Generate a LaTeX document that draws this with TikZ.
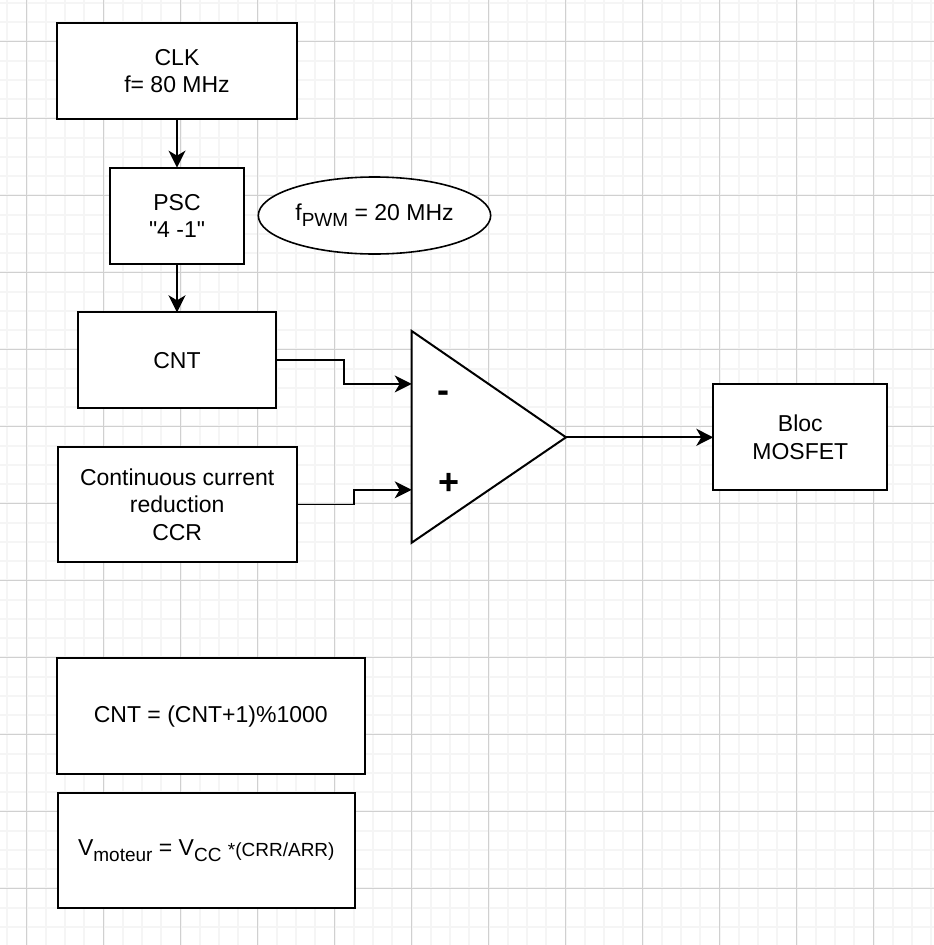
\documentclass[tikz,border=0pt]{standalone}
\usepackage{fontspec}
\setmainfont{Liberation Sans}[Ligatures=TeXOff]
\usetikzlibrary{arrows.meta,shapes.geometric,calc}
\definecolor{gridmajor}{RGB}{208,208,208}
\definecolor{gridminor}{RGB}{245,245,245}
\newcommand\subtxt[1]{\raisebox{-6pt}{\fontsize{19}{19}\selectfont #1}}
\begin{document}
\begin{tikzpicture}[x=1pt,y=-1pt,
  every node/.style={font=\fontsize{23}{27.6}\selectfont, inner sep=0pt, outer sep=0pt, align=center},
  blk/.style={draw=black, line width=2pt, fill=white, rectangle},
  conn/.style={line width=1.8pt, -{Stealth[length=17pt,width=17pt,inset=5pt]}},
  gmin/.style={draw=gridminor, line width=2pt},
  gmaj/.style={draw=gridmajor, line width=1pt},
  sign/.style={font=\fontsize{36}{36}\selectfont\bfseries, anchor=base}]
\useasboundingbox (0,0) rectangle (934,945);
\fill[white] (0,0) rectangle (934,945);
% grid
\foreach \i in {-1,...,48} { \draw[gmin] (26.5+19.25*\i,0) -- (26.5+19.25*\i,945); }
\foreach \i in {-2,...,47} { \draw[gmin] (0,41.3+19.25*\i) -- (934,41.3+19.25*\i); }
\foreach \i in {0,...,11} { \draw[gmaj] (26.5+77*\i,0) -- (26.5+77*\i,945); }
\foreach \i in {0,...,11} { \draw[gmaj] (0,41.3+77*\i) -- (934,41.3+77*\i); }
% blocks
\node[blk, minimum width=240.6pt, minimum height=95.7pt] (clk) at (177,71.2) {CLK\\f= 80 MHz};
\node[blk, minimum width=134.3pt, minimum height=96.3pt] (psc) at (177,215.8) {PSC\\"4 -1"};
\node[draw=black, ellipse, line width=1.6pt, fill=white, minimum width=232.4pt, minimum height=77pt] (fpwm) at (374.5,215.5) {f\subtxt{PWM} = 20 MHz};
\node[blk, minimum width=197.7pt, minimum height=96pt] (cnt) at (177,360.3) {CNT};
\node[blk, minimum width=239pt, minimum height=115.6pt] (ccr) at (177.2,504.5) {Continuous current\\reduction\\CCR};
\node[blk, minimum width=174pt, minimum height=105.7pt] (mos) at (800.3,437.3) {Bloc\\MOSFET};
\node[blk, minimum width=308.3pt, minimum height=116pt] (eqa) at (210.8,716.3) {CNT = (CNT+1)\%1000};
\node[blk, minimum width=297.3pt, minimum height=115pt] (eqb) at (206.3,850.8) {V\subtxt{moteur} = V\subtxt{CC} \raisebox{-1pt}{\fontsize{19}{19}\selectfont *(CRR/ARR)}};
% comparator
\coordinate (ta) at (411.7,331);
\coordinate (tb) at (411.7,542.7);
\coordinate (tc) at (566,437.3);
\draw[line width=2pt, fill=white, line join=miter] (ta) -- (tc) -- (tb) -- cycle;
\coordinate (inm) at ($(ta)!0.25!(tb)$);
\coordinate (inp) at ($(ta)!0.75!(tb)$);
\node[sign] (minus) at (443.8,402.7) {-};
\node[sign] (plus) at (448.8,494.9) {+};
% connectors
\draw[conn] (clk.south) -- (psc.north);
\draw[conn] (psc.south) -- (cnt.north);
\draw[conn] (cnt.east) -| ($(cnt.east)!0.5!(inm)$) |- (inm);
\draw[conn] (ccr.east) -| ($(ccr.east)!0.5!(inp)$) |- (inp);
\draw[conn] (tc) -- (mos.west);
\end{tikzpicture}
\end{document}
